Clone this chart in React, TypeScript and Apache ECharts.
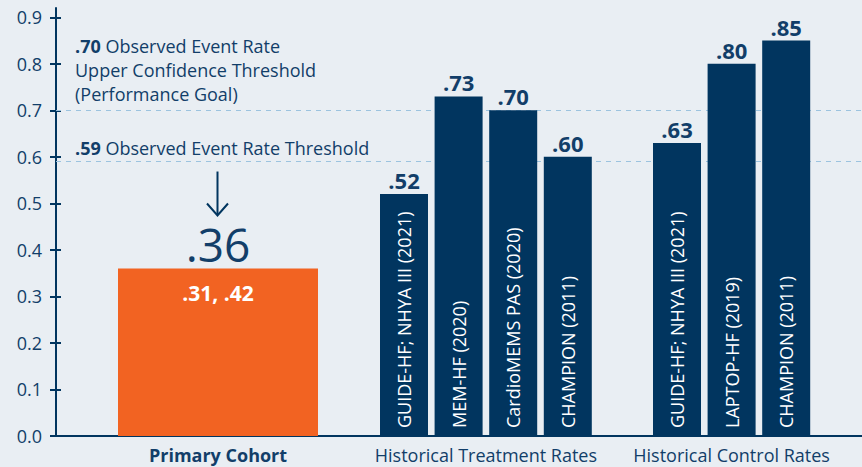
import React, { useEffect, useRef } from 'react';
import * as echarts from 'echarts';

// ---------- data ----------
const groupNames = ['Primary Cohort', 'Historical Treatment Rates', 'Historical Control Rates'];
const primaryValue = 0.36;
const primaryCI = [0.31, 0.42];
const treatmentNames = ['GUIDE-HF; NHYA III (2021)', 'MEM-HF (2020)', 'CardioMEMS PAS (2020)', 'CHAMPION (2011)'];
const treatmentValues = [0.52, 0.73, 0.7, 0.6];
const controlNames = ['GUIDE-HF; NHYA III (2021)', 'LAPTOP-HF (2019)', 'CHAMPION (2011)'];
const controlValues = [0.63, 0.8, 0.85];
const thresholdValues = [0.7, 0.59];
const thresholdTexts = [
  ['Observed Event Rate', 'Upper Confidence Threshold', '(Performance Goal)'],
  ['Observed Event Rate Threshold'],
];
const yTickValues = [0, 0.1, 0.2, 0.3, 0.4, 0.5, 0.6, 0.7, 0.8, 0.9];

// ---------- layout ----------
const X_MAX = 806;
const PRIMARY_X = 162;
const TREAT_START = 348;
const CONTROL_START = 621;
const BAR_STEP = 54.6;

const NAVY = '#01355f';
const TEXT = '#123e69';
const ORANGE = '#f26322';
const BG = '#e9eef3';
const FONT = "'Open Sans', sans-serif";

const fmt = (v: number) => v.toFixed(2).replace(/^0/, '');

export default function App() {
  const ref = useRef<HTMLDivElement>(null);

  useEffect(() => {
    document.body.style.margin = '0';
    const chart = echarts.init(ref.current!, null, { renderer: 'svg' });

    const treatX = treatmentValues.map((_, i) => TREAT_START + i * BAR_STEP);
    const controlX = controlValues.map((_, i) => CONTROL_START + i * BAR_STEP);
    const trialData = [
      ...treatmentValues.map((v, i) => [treatX[i], v]),
      ...controlValues.map((v, i) => [controlX[i], v]),
    ];
    const trialNames = [...treatmentNames, ...controlNames];
    const groupCenters = [
      PRIMARY_X,
      (treatX[0] + treatX[treatX.length - 1]) / 2,
      (controlX[0] + controlX[controlX.length - 1]) / 2,
    ];

    const hiddenX = { type: 'value', min: 0, max: X_MAX, show: false, gridIndex: 0 };

    chart.setOption({
      animation: false,
      backgroundColor: BG,
      textStyle: { fontFamily: FONT },
      grid: { left: 56, right: 0, top: 8, bottom: 31, containLabel: false, outerBoundsMode: 'none' },
      xAxis: [
        {
          type: 'value',
          min: 0,
          max: X_MAX,
          axisLine: { show: true, lineStyle: { color: NAVY, width: 2 } },
          axisTick: { show: false },
          splitLine: { show: false },
          axisLabel: {
            customValues: groupCenters,
            margin: 10,
            fontSize: 18,
            lineHeight: 18,
            color: TEXT,
            fontFamily: FONT,
            formatter: (v: number) => {
              let idx = 0;
              groupCenters.forEach((c, i) => {
                if (Math.abs(c - v) < Math.abs(groupCenters[idx] - v)) idx = i;
              });
              return idx === 0 ? `{bold|${groupNames[0]}}` : groupNames[idx];
            },
            rich: { bold: { fontWeight: 'bold', fontSize: 18, lineHeight: 18, color: TEXT, fontFamily: FONT } },
          },
        },
        hiddenX,
        hiddenX,
        hiddenX,
      ],
      yAxis: [
        {
          type: 'value',
          min: 0,
          max: 0.92,
          axisLine: { show: true, lineStyle: { color: NAVY, width: 2 } },
          axisTick: { show: true, customValues: yTickValues, length: 6, lineStyle: { color: NAVY, width: 2 } },
          splitLine: { show: false },
          axisLabel: {
            customValues: yTickValues,
            formatter: (v: number) => v.toFixed(1),
            fontSize: 18,
            color: TEXT,
            margin: 14,
            fontFamily: FONT,
          },
        },
        {
          type: 'value',
          min: 0,
          max: 0.92,
          position: 'left',
          axisLine: { show: false },
          axisLabel: { show: false },
          splitLine: { show: false },
          axisTick: { show: true, inside: true, customValues: yTickValues, length: 5, lineStyle: { color: NAVY, width: 2 } },
        },
      ],
      series: [
        {
          name: 'Primary',
          type: 'bar',
          xAxisIndex: 1,
          yAxisIndex: 0,
          barWidth: 200,
          data: [[PRIMARY_X, primaryValue]],
          itemStyle: { color: ORANGE },
          label: {
            show: true,
            position: 'top',
            distance: 2,
            formatter: () => fmt(primaryValue),
            fontSize: 46,
            color: TEXT,
            fontFamily: FONT,
          },
        },
        {
          name: 'PrimaryCI',
          type: 'bar',
          xAxisIndex: 2,
          yAxisIndex: 0,
          barWidth: 200,
          silent: true,
          data: [[PRIMARY_X, primaryValue]],
          itemStyle: { color: 'rgba(0,0,0,0)' },
          label: {
            show: true,
            position: 'insideTop',
            distance: 14,
            formatter: () => primaryCI.map(fmt).join(', '),
            fontSize: 21,
            fontWeight: 'bold',
            color: '#ffffff',
            fontFamily: FONT,
          },
        },
        {
          name: 'Trials',
          type: 'bar',
          xAxisIndex: 0,
          yAxisIndex: 0,
          barWidth: 48,
          data: trialData,
          itemStyle: { color: NAVY },
          label: {
            show: true,
            position: 'top',
            distance: 3,
            formatter: (p: any) => fmt(p.value[1]),
            fontSize: 22,
            fontWeight: 'bold',
            color: TEXT,
            fontFamily: FONT,
          },
          markLine: {
            z: 1,
            silent: true,
            symbol: ['none', 'none'],
            lineStyle: { color: '#9cc3df', type: [5, 5], width: 1 },
            data: thresholdValues.map((t, i) => ({
              yAxis: t,
              label: {
                show: true,
                position: 'insideStartTop',
                distance: [19, i === 0 ? 4 : 2],
                formatter: () =>
                  `{bold|${fmt(t)}} ` + thresholdTexts[i].join('\n'),
                fontSize: 18,
                lineHeight: 24,
                color: TEXT,
                fontFamily: FONT,
                rich: {
                  bold: { fontWeight: 'bold', fontSize: 18, lineHeight: 24, color: TEXT, fontFamily: FONT },
                },
              },
            })),
          },
        },
        {
          name: 'TrialNames',
          type: 'bar',
          xAxisIndex: 3,
          yAxisIndex: 0,
          barWidth: 48,
          silent: true,
          data: trialData,
          itemStyle: { color: 'rgba(0,0,0,0)' },
          label: {
            show: true,
            position: 'insideBottom',
            rotate: 90,
            align: 'left',
            verticalAlign: 'middle',
            distance: 8,
            formatter: (p: any) => trialNames[p.dataIndex],
            fontSize: 18,
            color: '#ffffff',
            fontFamily: FONT,
          },
        },
      ],
    });

    // arrow pointing down at the primary result
    const p = chart.convertToPixel({ xAxisIndex: 1, yAxisIndex: 0 }, [PRIMARY_X, primaryValue]) as number[];
    if (p) {
      const x = p[0] - 0.5;
      const tip = p[1] - 53;
      chart.setOption({
        graphic: [
          {
            type: 'line',
            shape: { x1: x, y1: p[1] - 97, x2: x, y2: tip - 1 },
            style: { stroke: NAVY, lineWidth: 2 },
          },
          {
            type: 'polyline',
            shape: { points: [[x - 10.5, tip - 12], [x, tip], [x + 10.5, tip - 12]] },
            style: { stroke: NAVY, lineWidth: 2, fill: 'none' },
          },
        ],
      });
    }

    return () => chart.dispose();
  }, []);

  return <div ref={ref} style={{ position: 'fixed', left: 0, top: 0, width: 862, height: 467 }} />;
}
